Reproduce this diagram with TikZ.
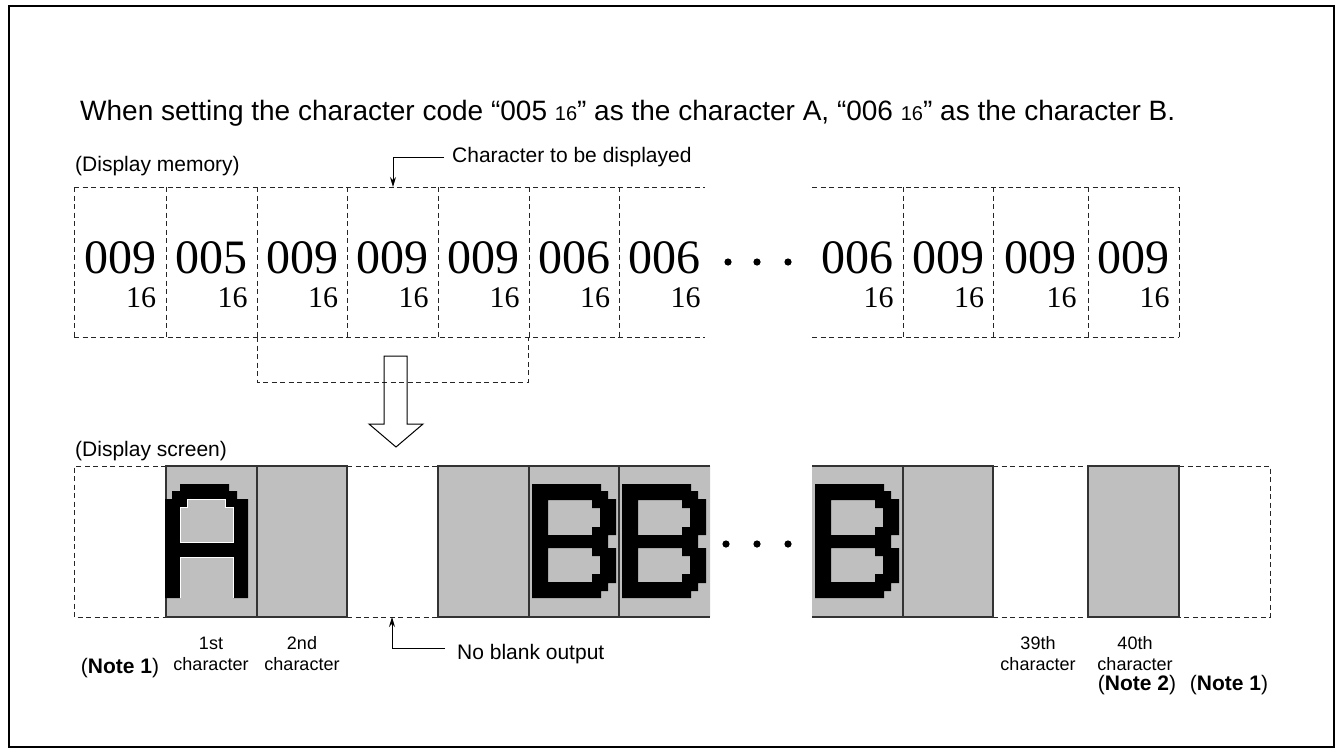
\documentclass[tikz,border=0pt]{standalone}
\usepackage{fontspec}
\setmainfont{Liberation Sans}
\newfontfamily\cifras{Liberation Serif}
\usetikzlibrary{arrows.meta}

\tikzset{
  rayas/.style={draw=black!85, line width=0.9pt, dash pattern=on 5pt off 3.5pt},
  gris/.style={fill=black!25, draw=black!80, line width=1.2pt},
  texto/.style={inner sep=0pt, font=\fontsize{21}{25}\selectfont},
  etiq/.style={inner sep=0pt, font=\fontsize{18}{21}\selectfont},
  codigo/.style={inner sep=0pt, font=\cifras\fontsize{48}{52}\selectfont},
  base16/.style={inner sep=0pt, font=\cifras\fontsize{30}{34}\selectfont},
  guia/.style={line width=1pt, -{Stealth[length=10pt,width=6pt]}},
}
\newcommand{\hexsub}{{\fontsize{20}{22}\selectfont 16}}

% letra B de matriz de puntos, #1 = borde izquierdo de la celda
\newcommand{\letraB}[1]{%
  \fill[black, even odd rule, shift={(#1,0)}]
    (3,484) -- (72,484) -- (72,491) -- (79,491) -- (79,499) -- (87,499) -- (87,535) -- (79,535)
    -- (79,548) -- (87,548) -- (87,583) -- (79,583) -- (79,591) -- (72,591) -- (72,598) -- (3,598) -- cycle
    (19,500) -- (63,500) -- (63,508) -- (71,508) -- (71,527) -- (63,527) -- (63,535) -- (19,535) -- cycle
    (19,548) -- (63,548) -- (63,556) -- (71,556) -- (71,574) -- (63,574) -- (63,582) -- (19,582) -- cycle;}
% letra A de matriz de puntos
\newcommand{\letraA}[1]{%
  \fill[black, even odd rule, shift={(#1,0)}]
    (0,598) -- (0,499) -- (7,499) -- (7,491) -- (15,491) -- (15,484) -- (64,484) -- (64,491) -- (72,491)
    -- (72,499) -- (83,499) -- (83,598) -- (68,598) -- (68,557) -- (15,557) -- (15,598) -- cycle
    (15,507) -- (22,507) -- (22,499) -- (60,499) -- (60,507) -- (68,507) -- (68,542) -- (15,542) -- cycle;
  \draw[white, line width=0.6pt, shift={(#1,0)}]
    (15,507) -- (22,507) -- (22,499) -- (60,499) -- (60,507) -- (68,507) -- (68,542) -- (15,542) -- cycle
    (15,598) -- (15,557) -- (68,557) -- (68,598);}

\begin{document}
\begin{tikzpicture}[x=1pt,y=-1pt]
  \useasboundingbox (0,0) rectangle (1339,753);
  % marco
  \draw[line width=2.5pt] (9,6) rectangle (1334,747);
  % enunciado
  \node[anchor=base west, inner sep=0pt, font=\fontsize{28}{32}\selectfont] (enunciado) at (80,120)
    {When setting the character code “005 \hexsub” as the character A, “006 \hexsub” as the character B.};

  % memoria de pantalla
  \node[texto, anchor=base west] (memoria) at (75,171) {(Display memory)};
  \draw[rayas] (74,187) -- (705,187) (74,337) -- (705,337);
  \draw[rayas] (812,187) -- (1179,187) (812,337) -- (1179,337);
  \foreach \x in {74,166,257,347,438,529,619,903,993,1088,1179}
    \draw[rayas] (\x,187) -- (\x,337);
  \draw[rayas] (257,337) -- (257,382) -- (528,382) -- (528,337);
  % codigos
  \foreach \c/\v [count=\i] in {120/009,211.5/005,302/009,392.5/009,483.5/009,574/006,664.5/006,
                                857.5/006,948/009,1040.5/009,1133.5/009}{
    \node[codigo, anchor=base] (m\i) at (\c,273) {\v};
    \path (m\i.base east) ++(0,34) node[base16, anchor=base east] (s\i) {16};
  }
  \foreach \x in {728,757,788} \fill (\x,262) circle (3.6pt);

  % caracter a mostrar
  \node[texto, anchor=base west] (objeto) at (452,162.5) {Character to be displayed};
  \coordinate (celda4) at (393,187);
  \draw[guia] ([xshift=-8pt]objeto.west) -| (celda4);

  % flecha hueca
  \draw[line width=1pt] (384,356) -- (407,356) -- (407,424) -- (423,424) -- (396,447)
    -- (369,424) -- (384,424) -- cycle;

  % pantalla
  \node[texto, anchor=base west] (pantalla) at (75,456) {(Display screen)};
  \draw[rayas] (166,466) -- (74,466) -- (74,617) -- (166,617);
  \draw[rayas] (347,466) -- (438,466) (347,617) -- (438,617);
  \draw[rayas] (993,466) -- (1088,466) (993,617) -- (1088,617);
  \draw[rayas] (1179,466) -- (1270,466) -- (1270,617) -- (1179,617);
  \fill[black!25] (619,466) rectangle (710,617) (812,466) rectangle (903,617);
  \draw[black!80, line width=1.2pt] (619,466) -- (710,466) (619,617) -- (710,617)
    (812,466) -- (903,466) (812,617) -- (903,617);
  \foreach \xa/\xb in {166/257,257/347,438/529,529/619,903/993,1088/1179}
    \draw[gris] (\xa,466) rectangle (\xb,617);
  \letraA{165}
  \letraB{529}
  \letraB{619}
  \letraB{812}
  \foreach \x in {726,757,788} \fill (\x,544) circle (3.6pt);

  % etiquetas
  \foreach \x/\n [count=\i] in {211/1st,302/2nd,1038/39th,1135/40th}{
    \node[etiq, anchor=base] (n\i) at (\x,649.5) {\n};
    \node[etiq, anchor=base] (c\i) at (\x,670) {character};
  }
  \node[texto, anchor=base] (nota1) at (120,673) {(\textbf{Note 1})};
  \node[texto, anchor=base] (nota2) at (1137,690) {(\textbf{Note 2})};
  \node[texto, anchor=base] (nota3) at (1229,690) {(\textbf{Note 1})};

  % sin salida de blanco
  \node[texto, anchor=base west] (sinblanco) at (457,659) {No blank output};
  \coordinate (hueco) at (392,617);
  \draw[guia] ([xshift=-12pt,yshift=5.5pt]sinblanco.west) -| (hueco);
\end{tikzpicture}
\end{document}
